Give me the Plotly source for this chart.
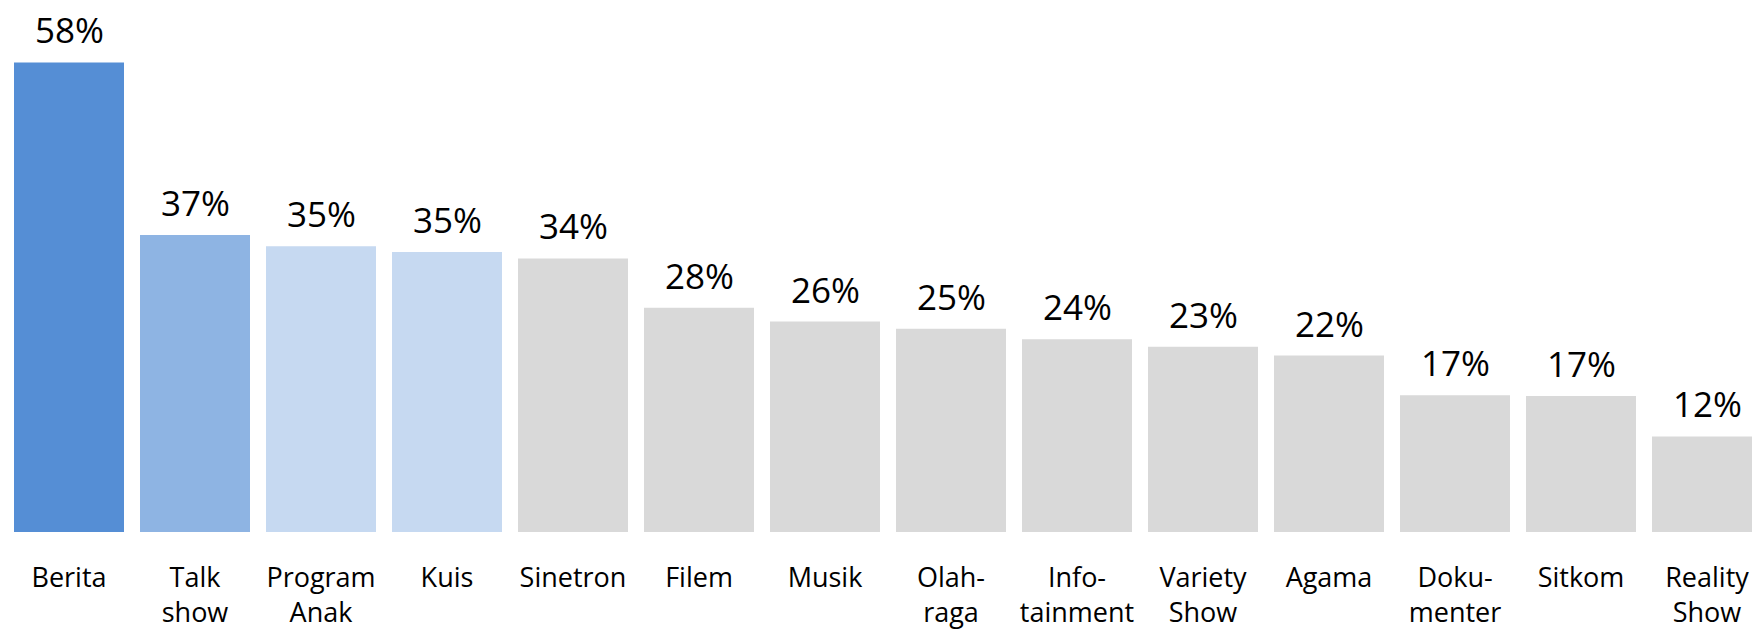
import plotly.graph_objects as go

# Program categories and share of viewers (%)
categories = ["Berita", "Talk show", "Program Anak", "Kuis", "Sinetron", "Filem", "Musik",
              "Olahraga", "Infotainment", "Variety Show", "Agama", "Dokumenter", "Sitkom",
              "Reality Show"]
tick_labels = ["Berita", "Talk<br>show", "Program<br>Anak", "Kuis", "Sinetron", "Filem", "Musik",
               "Olah-<br>raga", "Info-<br>tainment", "Variety<br>Show", "Agama", "Doku-<br>menter",
               "Sitkom", "Reality<br>Show"]
values = [58.0, 36.7, 35.3, 34.6, 33.8, 27.7, 26.0, 25.1, 23.8, 22.9, 21.8, 16.9, 16.8, 11.8]

DARK, MID, LIGHT, GREY = "#558ED5", "#8EB4E3", "#C6D9F1", "#D9D9D9"
bar_colors = [DARK, MID, LIGHT, LIGHT] + [GREY] * (len(categories) - 4)

FONT = "Open Sans, Noto Sans, Arial, sans-serif"

fig = go.Figure(
    go.Bar(
        x=categories,
        y=values,
        marker=dict(color=bar_colors, line=dict(width=0)),
        hoverinfo="skip",
    )
)

for cat, v in zip(categories, values):
    fig.add_annotation(
        x=cat, y=v, text=f"{round(v)}%", showarrow=False,
        yanchor="bottom", yshift=7,
        font=dict(family=FONT, size=35, color="#000000"),
    )

fig.update_layout(
    width=1752, height=630,
    margin=dict(l=0, r=0, t=0, b=98, autoexpand=False),
    paper_bgcolor="white", plot_bgcolor="white",
    bargap=0.127,
    showlegend=False,
    font=dict(family=FONT, color="#000000"),
)
fig.update_xaxes(
    type="category",
    tickmode="array", tickvals=categories, ticktext=tick_labels,
    tickfont=dict(family=FONT, size=27, color="#000000"),
    range=[-0.5476, 13.357],
    showline=False, showgrid=False, zeroline=False, ticks="",
    ticklabelstandoff=27,
    automargin=False,
)
fig.update_yaxes(
    range=[0, 65.72], visible=False, showgrid=False, zeroline=False,
)

fig.write_html("out.html", config={"displayModeBar": False})
